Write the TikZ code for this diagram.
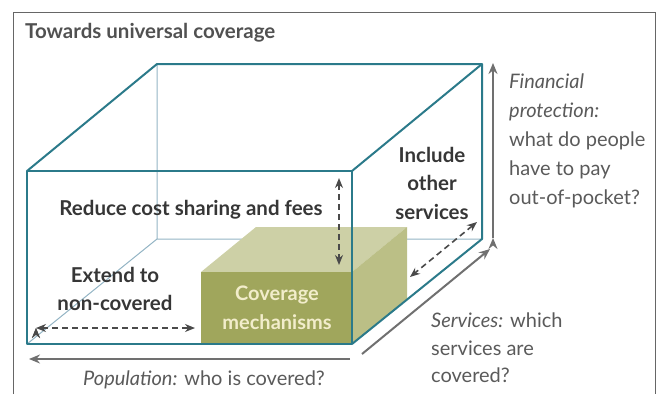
\documentclass[tikz,border=0pt]{standalone}
\usepackage{fontspec}
\setmainfont{Lato}
\usetikzlibrary{positioning,arrows.meta}
\definecolor{frontline}{HTML}{2B7A8A}
\definecolor{backline}{HTML}{93B4C4}
\definecolor{greenfront}{HTML}{A0A65C}
\definecolor{greentop}{HTML}{CDD0A6}
\definecolor{greenside}{HTML}{BBBF86}
\definecolor{covertext}{HTML}{F2EDCB}
\definecolor{labeltext}{HTML}{363636}
\definecolor{axistext}{HTML}{5A5A5A}
\definecolor{axisline}{HTML}{707070}
\tikzset{
  frontedge/.style={draw=frontline, line width=2pt, line join=round},
  backedge/.style={draw=backline, line width=1pt},
  inlabel/.style={font=\fontsize{20.5}{28.5}\selectfont\bfseries, text=labeltext, align=center, inner sep=0pt},
  axislabel/.style={font=\fontsize{20}{28.5}\selectfont, text=axistext, align=left, inner sep=0pt},
  axisarrow/.style={draw=axisline, line width=2pt, -{Stealth[length=11pt,width=9pt]}},
  dasharrow/.style={draw=labeltext!90, line width=1.6pt, dash pattern=on 6pt off 4pt, {Stealth[length=10pt,width=8pt]}-{Stealth[length=10pt,width=8pt]}}
}
\begin{document}
\begin{tikzpicture}[x=1pt, y=-1pt]
  \useasboundingbox (0,0) rectangle (659,394);
  % frame
  \draw[gray!80!black, line width=1pt] (13,394) -- (13,12) -- (655,12) -- (655,394);
  \node[anchor=west, font=\fontsize{20.5}{24}\selectfont\bfseries, text=axistext!90!black, inner sep=0pt] (title) at (25,33) {Towards universal coverage};
  % cube corners
  \coordinate (fbl) at (27,344);  \coordinate (fbr) at (352,344);
  \coordinate (ftr) at (352,171); \coordinate (ftl) at (27,171);
  \coordinate (bbl) at (157,239); \coordinate (bbr) at (482,239);
  \coordinate (btr) at (482,64);  \coordinate (btl) at (157,64);
  % hidden edges
  \draw[backedge] (fbl) -- (bbl) -- (bbr) (bbl) -- (btl);
  % coverage mechanisms block
  \fill[greentop] (201,272) -- (256,227) -- (407,227) -- (352,272) -- cycle;
  \fill[greenside] (352,272) -- (407,227) -- (407,299) -- (352,344) -- cycle;
  \fill[greenfront] (201,272) rectangle (352,344);
  \node[inlabel, font=\fontsize{20}{28.5}\selectfont\bfseries, text=covertext] (coverage) at (277,308) {Coverage\\mechanisms};
  % visible edges
  \draw[frontedge] (ftl) -- (btl) -- (btr) -- (bbr) -- (fbr);
  \draw[frontedge] (ftr) -- (btr);
  \draw[frontedge] (fbl) rectangle (ftr);
  % labels inside
  \node[inlabel] (reduce) at (191,210) {Reduce cost sharing and fees};
  \node[inlabel] (include) at (432,183) {Include\\other\\services};
  \node[inlabel] (extend) at (115,289) {Extend to\\non-covered};
  \coordinate (fees_top) at (339,178);  \coordinate (fees_bot) at (339,265);
  \coordinate (serv_in) at (477,222);   \coordinate (serv_out) at (410,277);
  \coordinate (pop_in) at (36,328);     \coordinate (pop_out) at (195,328);
  \path[dasharrow] (fees_top) edge (fees_bot)
                   (serv_in) edge (serv_out)
                   (pop_in) edge (pop_out);
  % axes
  \coordinate (pop_start) at (350,359);  \coordinate (pop_end) at (29,359);
  \coordinate (ser_start) at (362,354);  \coordinate (ser_end) at (490,249);
  \coordinate (fin_start) at (493,238);  \coordinate (fin_end) at (493,63);
  \path[axisarrow] (pop_start) edge (pop_end)
                   (ser_start) edge (ser_end)
                   (fin_start) edge (fin_end);
  \node[axislabel] (population) at (204,380) {\textit{Population:} who is covered?};
  \node[axislabel, font=\fontsize{20}{27.5}\selectfont, anchor=north west] (services) at (431,313) {{\itshape Services:} which\\services are\\covered?};
  \node[axislabel, font=\fontsize{20}{29}\selectfont, anchor=north west] (financial) at (509,73.5) {\textit{Financial}\\\textit{protection:}\\what do people\\have to pay\\out-of-pocket?};
\end{tikzpicture}
\end{document}
